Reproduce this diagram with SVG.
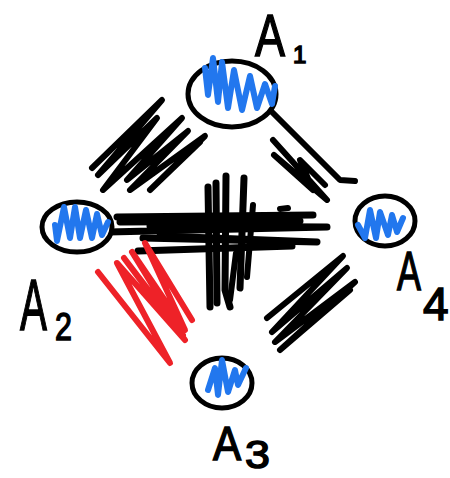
<svg xmlns="http://www.w3.org/2000/svg" width="450" height="478" viewBox="0 0 450 478">
<style>
.bg{fill:#fff}
.node{fill:#fff;stroke:#000;stroke-width:5}
.blue{fill:none;stroke:#2277ee;stroke-width:6;stroke-linecap:round;stroke-linejoin:round}
.ink{fill:none;stroke:#000;stroke-width:6;stroke-linecap:round;stroke-linejoin:round}
.thick{stroke-width:7}
.red{fill:none;stroke:#ee2228;stroke-width:6;stroke-linecap:round;stroke-linejoin:round}
.lbl{font-family:"Liberation Sans",Arial,sans-serif;fill:#000;stroke:#000;stroke-width:1.5}
</style>
<rect class="bg" width="450" height="478"/>
<g id="connectors">
  <path class="ink" d="M92,168 L162,100 L98,175 L157,118 L103,190 L182,118 L127,180 L188,131 L130,190 L205,136 L150,190 L200,142"/>
  <path class="ink" d="M270,110 L340,180 L355,181"/>
  <path class="ink" d="M273,140 L327,200 L274,155 L313,190 L300,160 L325,185"/>
  <path class="ink thick" d="M117,217 L313,215"/>
  <path class="ink thick" d="M108,232 L327,227 L150,226"/>
  <path class="ink thick" d="M120,222 L300,221"/>
  <path class="ink thick" d="M143,238 L317,242 L160,236"/>
  <path class="ink thick" d="M138,251 L292,246"/>
  <path class="ink" d="M280,209 L288,208"/>
  <path class="ink thick" d="M208,187 L210,307"/>
  <path class="ink thick" d="M216,183 L217,303"/>
  <path class="ink thick" d="M226,176 L225,290 L230,307"/>
  <path class="ink thick" d="M244,178 L240,288"/>
  <path class="ink" d="M253,205 L247,277"/>
  <path class="ink" d="M236,253 L230,300"/>
  <path class="red" d="M98,272 L170,363 L117,263 L185,340 L124,258 L183,335 L132,252 L185,330 L145,243 L192,320"/>
  <path class="ink" d="M267,318 L343,256 L272,332 L347,268 L275,342 L355,282 L280,350 L350,290"/>
</g>
<g id="A1">
  <ellipse class="node" cx="232" cy="94" rx="44" ry="33"/>
  <path class="blue" d="M205,68 L208,95 L213,58 L218,102 L222,62 L228,108 L234,70 L242,110 L250,76 L257,108 L265,84 L272,104 L275,86"/>
  <text class="lbl" transform="translate(255,56) scale(0.75,1)" font-size="60">A</text>
  <text class="lbl" x="293" y="63" font-size="24">1</text>
</g>
<g id="A2">
  <ellipse class="node" cx="77" cy="227" rx="35" ry="25"/>
  <path class="blue" d="M55,225 L57,241 L64,207 L70,238 L75,207 L80,238 L86,210 L92,238 L97,214 L102,235 L108,222"/>
  <text class="lbl" transform="translate(20,330) scale(0.56,1)" font-size="72">A</text>
  <text class="lbl" transform="translate(55,340) scale(0.78,1)" font-size="39">2</text>
</g>
<g id="A3">
  <ellipse class="node" cx="222" cy="383" rx="30" ry="25"/>
  <path class="blue" d="M208,390 L215,368 L218,395 L222,360 L228,392 L235,370 L238,385 L246,368"/>
  <text class="lbl" transform="translate(213,460) scale(0.86,1)" font-size="49">A</text>
  <text class="lbl" transform="translate(245,468) scale(1.15,1)" font-size="39">3</text>
</g>
<g id="A4">
  <ellipse class="node" cx="385" cy="221" rx="30" ry="25"/>
  <path class="blue" d="M358,225 L365,238 L370,210 L376,238 L380,212 L388,235 L392,215 L397,232 L403,218"/>
  <text class="lbl" transform="translate(397,290) scale(0.64,1)" font-size="56">A</text>
  <text class="lbl" x="423" y="320" font-size="46">4</text>
</g>
</svg>
